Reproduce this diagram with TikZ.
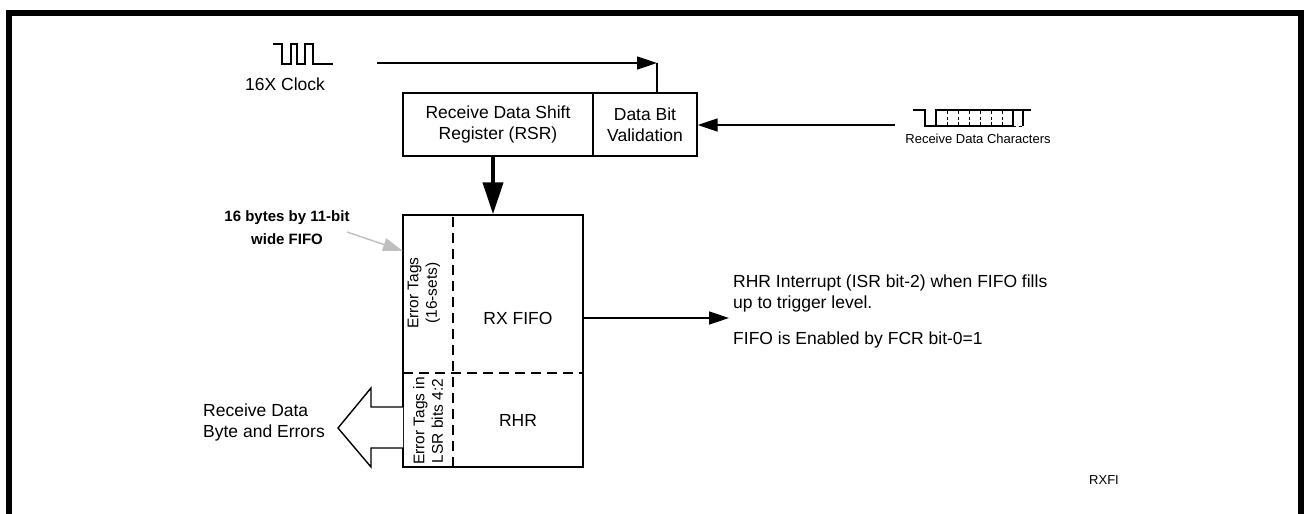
\documentclass[tikz,border=0pt]{standalone}
\usepackage{fontspec}
\setmainfont{Liberation Sans}
\usetikzlibrary{arrows.meta}
\begin{document}
\begin{tikzpicture}[x=1pt,y=-1pt,
  txt/.style={inner sep=0pt, font=\fontsize{17.5}{21}\selectfont},
  box/.style={draw, line width=1.4pt, inner sep=0pt, align=center, font=\fontsize{17.5}{21}\selectfont},
  sml/.style={inner sep=0pt, font=\fontsize{13}{15}\selectfont},
  rot/.style={inner sep=0pt, rotate=90, align=center, font=\fontsize{15.5}{18.5}\selectfont},
  ln/.style={line width=1.4pt},
  wave/.style={line width=1.2pt},
  arr/.style={line width=1.4pt, -{Triangle[length=20pt,width=13pt]}},
  garr/.style={line width=1.4pt, draw=black!25, -{Triangle[length=20pt,width=13pt,fill=black!25]}},
  dsh/.style={line width=1.4pt, dash pattern=on 10pt off 6pt},
  wdsh/.style={line width=1pt, dash pattern=on 3pt off 2.5pt}
]
\useasboundingbox (0,0) rectangle (1304,514);
% frame
\fill (6,10) rectangle (1304,16);
\fill (6,10) rectangle (12,514);
\fill (1298,10) rectangle (1304,514);

% boxes
\node[box, minimum width=190pt, minimum height=63pt] (rsr) at (498,124.5) {Receive Data Shift\\Register (RSR)};
\node[box, minimum width=104pt, minimum height=63pt] (dbv) at (645,124.5) {Data Bit\\Validation};
\node[box, minimum width=180pt, minimum height=252pt] (fifo) at (493,341) {};
\draw[dsh] (403,373) -- (583,373);
\draw[dsh] (453,217) -- (453,466);
\node[txt] (rxfifo) at (518,318) {RX FIFO};
\node[txt] (rhr) at (518,420) {RHR};
\node[rot] (et1) at (424,293) {Error Tags\\(16-sets)};
\node[rot] (et2) at (428,421) {Error Tags in\\LSR bits 4:2};

% clock
\node[txt, anchor=west] (clk) at (245,84) {16X Clock};
\draw[wave] (273,44) -- (282,44) -- (282,64) -- (291,64) -- (291,44) -- (297,44) -- (297,64) -- (305,64) -- (305,44) -- (313,44) -- (313,64) -- (333,64);
\coordinate (c0) at (377,63);
\coordinate (c1) at (657,63);
\draw[arr] (c0) -- (c1);
\draw[ln] (c1) -- (c1 |- dbv.north);

% receive data characters
\draw[wave] (913,110) -- (925,110) -- (925,126) -- (1013,126);
\draw[wave] (936,126) -- (936,110) -- (1023,110) -- (1023,126);
\draw[wave] (1013,110) -- (1013,126);
\draw[wave] (1023,110) -- (1031,110);
\foreach \x in {947,958,969,980,991,1002} \draw[wdsh] (\x,111) -- (\x,125);
\draw[wdsh] (1013,126) -- (1023,126);
\node[sml] (rdc) at (978,139) {Receive Data Characters};
\coordinate (rd) at (895,125);
\draw[arr] (rd) -- (rd -| dbv.east);

% thick arrow
\draw[line width=4pt, -{Triangle[length=32pt,width=20pt]}] (fifo.north |- rsr.south) -- (fifo.north);

% gray label arrow
\node[inner sep=0pt, align=center, font=\bfseries\fontsize{15}{23}\selectfont] (lbl) at (287,227.5) {16 bytes by 11-bit\\wide FIFO};
\coordinate (g0) at (347,232);
\coordinate (g1) at (403,251);
\draw[garr] (g0) -- (g1);

% hollow arrow
\draw[ln, fill=white] (403,407) -- (371,407) -- (371,388) -- (338,428) -- (371,467) -- (371,448) -- (403,448);
\node[txt, anchor=west, align=left] (rdb) at (203,422.5) {Receive Data\\Byte and Errors};

% output arrow
\coordinate (o1) at (729,318);
\draw[arr] (fifo.east |- o1) -- (o1);
\node[txt, anchor=west, align=left] (int) at (733,293.5) {RHR Interrupt (ISR bit-2) when FIFO fills\\up to trigger level.};
\node[txt, anchor=west] (en) at (733,340) {FIFO is Enabled by FCR bit-0=1};

\node[sml] (rx) at (1104,480) {RXFI};
\end{tikzpicture}
\end{document}
